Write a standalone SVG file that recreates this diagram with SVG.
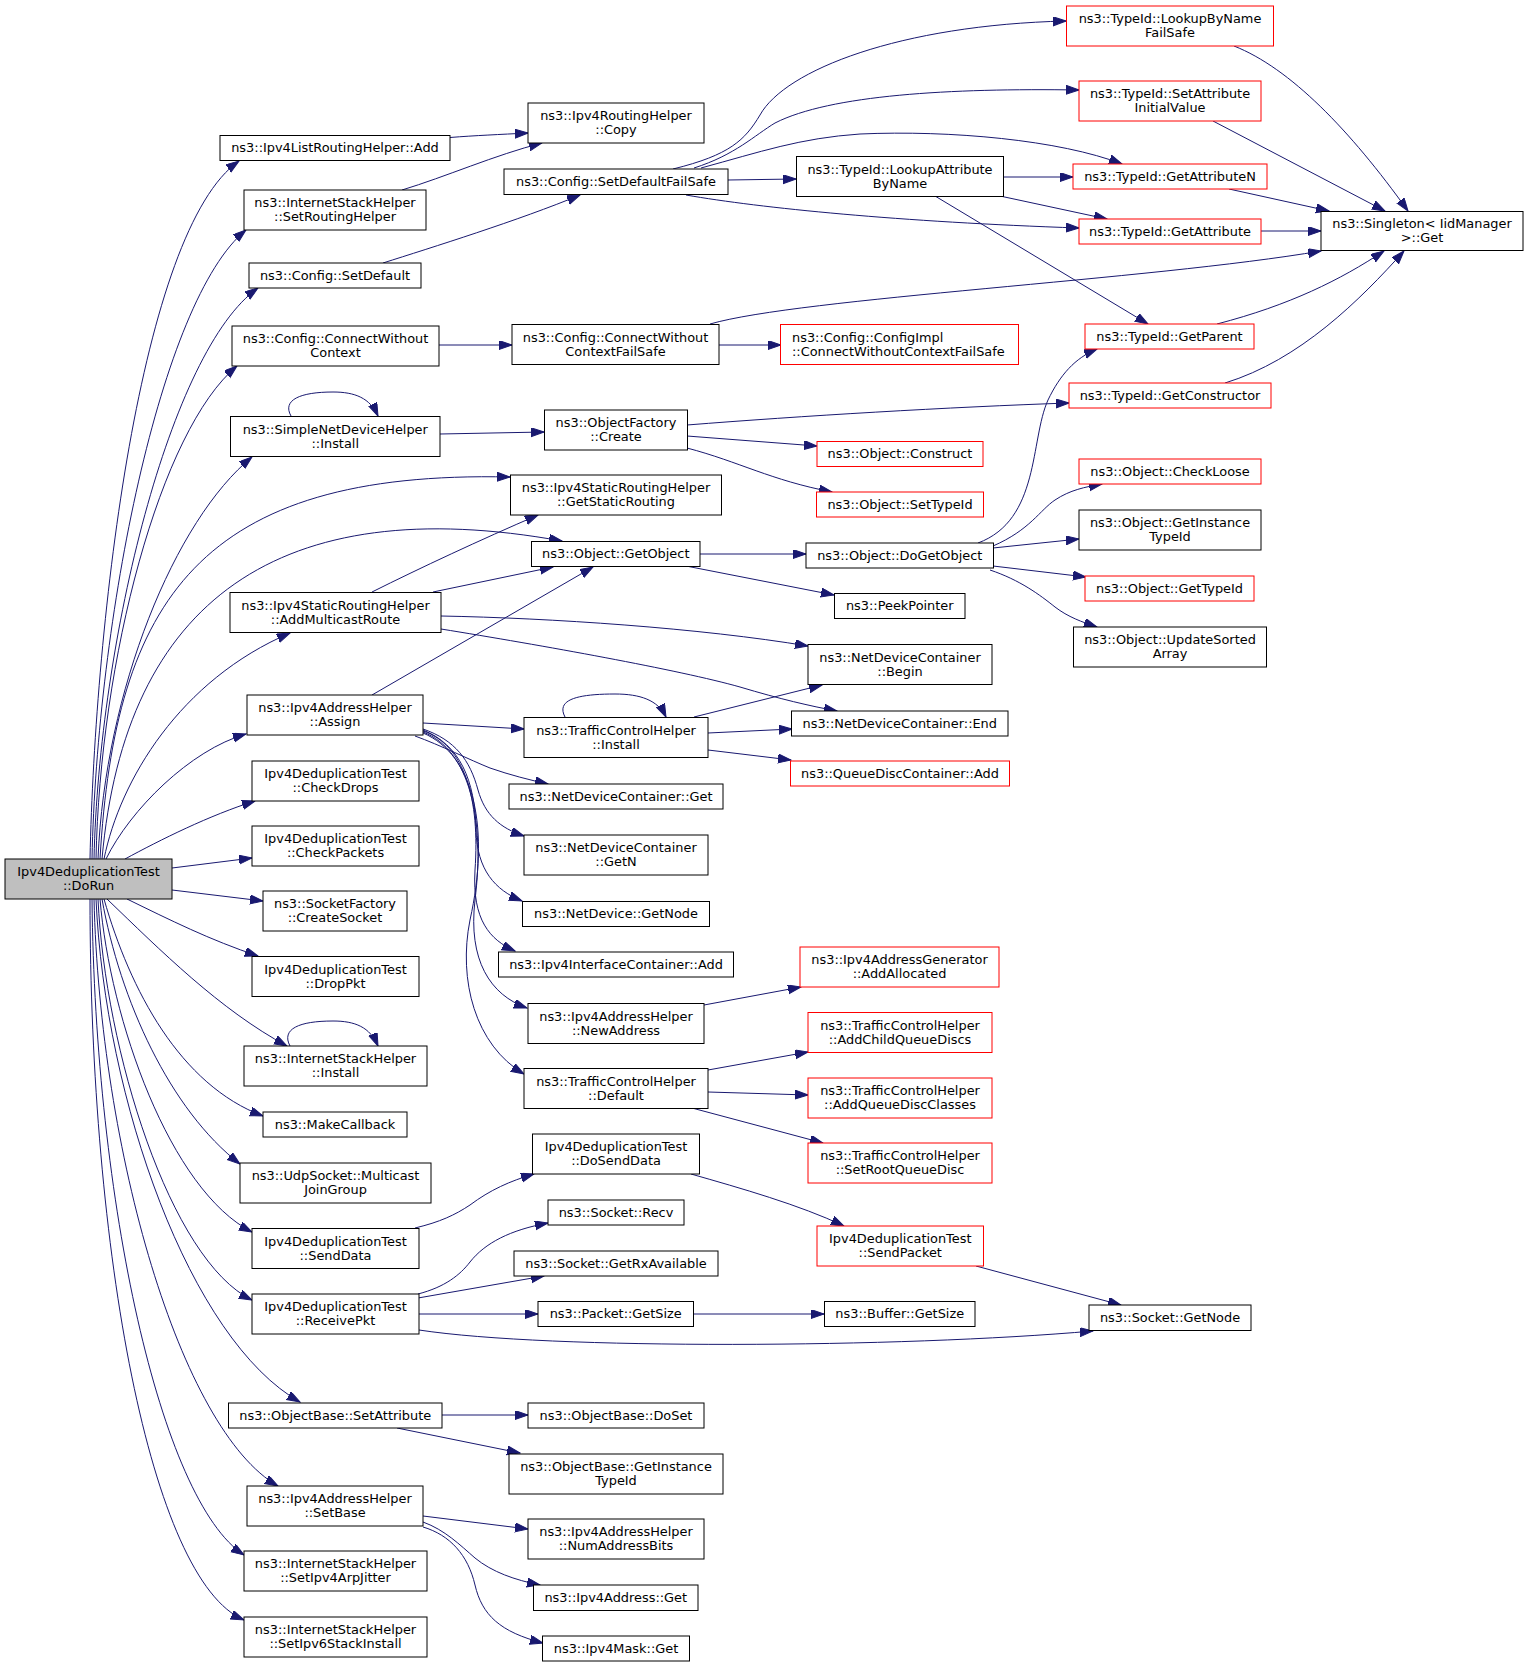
<svg xmlns="http://www.w3.org/2000/svg" width="1529" height="1667" viewBox="0 0 1529 1667">
<defs>
<marker id="ah" markerUnits="userSpaceOnUse" markerWidth="14" markerHeight="10" refX="13" refY="4.5" orient="auto">
<path d="M0,0 L13,4.5 L0,9 z" fill="#191970" stroke="#191970" stroke-width="1"/>
</marker>
</defs>
<style>
.n rect{fill:#ffffff;stroke:#000000;stroke-width:1}
.n.r rect{stroke:#ff0000}
.n.root rect{fill:#bfbfbf}
text{font-family:"DejaVu Sans","Liberation Sans",sans-serif;font-size:12.9px;fill:#000000;text-anchor:middle}
text.l{text-anchor:start}
#edges path{fill:none;stroke:#191970;stroke-width:1;marker-end:url(#ah)}
</style>
<rect width="1529" height="1667" fill="#ffffff"/>
<g id="edges">
<path d="M90,859 C95,620 140,230 239,161"/>
<path d="M92,859 C97,620 160,300 246,230"/>
<path d="M94,859 C99,640 170,350 258,288"/>
<path d="M96,859 C100,660 160,430 237,366"/>
<path d="M98,859 C105,690 175,520 252,457"/>
<path d="M100,859 C115,600 200,470 510,477"/>
<path d="M102,859 C125,600 280,490 562,541"/>
<path d="M104,859 C120,780 180,680 290,633"/>
<path d="M106,859 C130,810 190,750 246,734"/>
<path d="M125,859 C160,840 210,815 255,801"/>
<path d="M172,868 L252,858"/>
<path d="M172,890 L263,901"/>
<path d="M127,899 C170,920 210,940 258,956"/>
<path d="M107,899 C160,950 220,1010 287,1046"/>
<path d="M104,899 C130,990 180,1085 263,1116"/>
<path d="M102,899 C120,1000 170,1110 240,1164"/>
<path d="M100,899 C110,1020 170,1190 252,1232"/>
<path d="M98,899 C105,1050 170,1260 252,1300"/>
<path d="M96,899 C105,1100 190,1340 300,1402"/>
<path d="M94,899 C100,1150 180,1430 278,1486"/>
<path d="M92,899 C95,1200 160,1500 244,1555"/>
<path d="M90,899 C90,1250 150,1580 244,1620"/>
<path d="M450,137.5 C475,135.5 500,134.5 528,133"/>
<path d="M402,190 C445,177 495,155 542,143"/>
<path d="M383,263 C430,248 520,220 580,195"/>
<path d="M439,345 L512,345"/>
<path d="M440,434 L544,432"/>
<path d="M291,416 C282,400 300,392 333,392 C355,392 370,398 378,416"/>
<path d="M673,169 C730,155 745,140 760,115 C785,70 900,25 1066,21"/>
<path d="M694,168 C735,155 755,135 775,123 C830,95 950,88 1079,90"/>
<path d="M701,168 C760,152 800,138 860,134 C950,130 1060,140 1122,164"/>
<path d="M728,180 L796,179"/>
<path d="M686,195 C760,208 900,222 1079,228"/>
<path d="M1003,177 L1073,177"/>
<path d="M1000,196 L1107,219"/>
<path d="M935,196 L1148,324"/>
<path d="M710,324 C800,298 1150,280 1321,251"/>
<path d="M719,345 L781,345"/>
<path d="M687,425 C800,416 950,407 1069,403"/>
<path d="M687,436 L817,446"/>
<path d="M687,448 C740,462 770,480 832,492"/>
<path d="M1234,46 C1290,68 1350,130 1408,211"/>
<path d="M1213,121 L1385,211"/>
<path d="M1229,189 L1329,211"/>
<path d="M1261,231 L1321,231"/>
<path d="M1217,324 C1290,305 1340,280 1384,251"/>
<path d="M1225,383 C1300,360 1360,300 1404,251"/>
<path d="M700,554 L806,554"/>
<path d="M686,566 L834,595"/>
<path d="M978,543 C1040,520 1030,440 1048,400 C1060,375 1075,358 1097,349"/>
<path d="M993,546 C1030,530 1040,510 1055,500 C1070,490 1085,487 1102,484"/>
<path d="M993,548 L1079,539"/>
<path d="M993,566 L1086,577"/>
<path d="M990,570 C1020,580 1040,595 1055,607 C1068,617 1082,622 1097,627"/>
<path d="M372,592 C420,568 480,540 538,515"/>
<path d="M433,592 L553,567"/>
<path d="M441,616 C550,618 700,628 808,646"/>
<path d="M441,629 C540,645 680,670 740,687 C780,699 810,706 837,711"/>
<path d="M372,695 L593,567"/>
<path d="M423,723 L524,729"/>
<path d="M415,736 C440,745 470,760 490,768 C510,775 530,780 548,784"/>
<path d="M423,729 C455,740 470,760 478,790 C485,815 500,828 524,836"/>
<path d="M423,730 C460,745 475,780 476,830 C477,870 495,890 522,901"/>
<path d="M423,731 C465,745 480,800 475,870 C472,920 490,940 515,951"/>
<path d="M423,732 C470,750 485,820 475,900 C468,960 490,995 527,1008"/>
<path d="M423,733 C475,755 490,830 470,920 C458,980 475,1045 524,1074"/>
<path d="M694,717 L822,685"/>
<path d="M708,733 L792,729"/>
<path d="M708,750 L791,760"/>
<path d="M565,717 C556,700 576,694 615,694 C640,694 658,700 666,717"/>
<path d="M290,1046 C281,1029 299,1021 333,1021 C355,1021 370,1027 378,1046"/>
<path d="M704,1005 L801,987"/>
<path d="M708,1070 L808,1052"/>
<path d="M708,1092 L808,1095"/>
<path d="M692,1108 L823,1143"/>
<path d="M415,1228 C440,1222 455,1215 470,1205 C490,1190 510,1181 534,1174"/>
<path d="M691,1174 C740,1188 800,1205 844,1226"/>
<path d="M976,1266 L1121,1305"/>
<path d="M418,1294 C445,1287 460,1275 470,1262 C485,1243 510,1230 548,1223"/>
<path d="M418,1298 L544,1276"/>
<path d="M419,1314 L538,1314"/>
<path d="M419,1330 C550,1350 900,1348 1093,1331"/>
<path d="M694,1314 L824,1314"/>
<path d="M442,1415 L528,1415"/>
<path d="M397,1428 L520,1453"/>
<path d="M423,1516 L528,1529"/>
<path d="M423,1522 C445,1530 460,1545 475,1558 C492,1572 515,1580 540,1585"/>
<path d="M423,1527 C450,1535 468,1555 475,1585 C482,1615 500,1632 543,1643"/>
</g>
<g id="n_dorun" class="n root"><rect x="5" y="859" width="167" height="40"/><text x="88.5" y="876">Ipv4DeduplicationTest</text><text x="88.5" y="890">::DoRun</text></g>
<g id="n_add" class="n"><rect x="220" y="135.5" width="230" height="25"/><text x="335" y="152.2">ns3::Ipv4ListRoutingHelper::Add</text></g>
<g id="n_setroutinghelper" class="n"><rect x="244" y="190" width="182" height="40"/><text x="335" y="207.1">ns3::InternetStackHelper</text><text x="335" y="221.1">::SetRoutingHelper</text></g>
<g id="n_setdefault" class="n"><rect x="249" y="263" width="172" height="25"/><text x="335" y="279.7">ns3::Config::SetDefault</text></g>
<g id="n_cwc" class="n"><rect x="232" y="326" width="207" height="40"/><text x="335.5" y="343.1">ns3::Config::ConnectWithout</text><text x="335.5" y="357.1">Context</text></g>
<g id="n_sndh_install" class="n"><rect x="230.5" y="416.5" width="209.5" height="40"/><text x="335.25" y="433.6">ns3::SimpleNetDeviceHelper</text><text x="335.25" y="447.6">::Install</text></g>
<g id="n_addmulticastroute" class="n"><rect x="230" y="592.5" width="211" height="40"/><text x="335.5" y="609.6">ns3::Ipv4StaticRoutingHelper</text><text x="335.5" y="623.6">::AddMulticastRoute</text></g>
<g id="n_assign" class="n"><rect x="247" y="695" width="176" height="40"/><text x="335" y="712.1">ns3::Ipv4AddressHelper</text><text x="335" y="726.1">::Assign</text></g>
<g id="n_checkdrops" class="n"><rect x="252" y="761" width="167" height="40"/><text x="335.5" y="778.1">Ipv4DeduplicationTest</text><text x="335.5" y="792.1">::CheckDrops</text></g>
<g id="n_checkpackets" class="n"><rect x="252" y="826" width="167" height="40"/><text x="335.5" y="843.1">Ipv4DeduplicationTest</text><text x="335.5" y="857.1">::CheckPackets</text></g>
<g id="n_createsocket" class="n"><rect x="263" y="891" width="144" height="40"/><text x="335" y="908.1">ns3::SocketFactory</text><text x="335" y="922.1">::CreateSocket</text></g>
<g id="n_droppkt" class="n"><rect x="252" y="956.5" width="167" height="40"/><text x="335.5" y="973.6">Ipv4DeduplicationTest</text><text x="335.5" y="987.6">::DropPkt</text></g>
<g id="n_ish_install" class="n"><rect x="244" y="1046" width="183" height="40"/><text x="335.5" y="1063.1">ns3::InternetStackHelper</text><text x="335.5" y="1077.1">::Install</text></g>
<g id="n_makecallback" class="n"><rect x="263" y="1112" width="144" height="25"/><text x="335" y="1128.7">ns3::MakeCallback</text></g>
<g id="n_multicastjoingroup" class="n"><rect x="240" y="1163" width="191" height="40"/><text x="335.5" y="1180.1">ns3::UdpSocket::Multicast</text><text x="335.5" y="1194.1">JoinGroup</text></g>
<g id="n_senddata" class="n"><rect x="252" y="1228.5" width="167" height="40"/><text x="335.5" y="1245.6">Ipv4DeduplicationTest</text><text x="335.5" y="1259.6">::SendData</text></g>
<g id="n_receivepkt" class="n"><rect x="252" y="1294" width="167" height="40"/><text x="335.5" y="1311.1">Ipv4DeduplicationTest</text><text x="335.5" y="1325.1">::ReceivePkt</text></g>
<g id="n_setattribute" class="n"><rect x="228.5" y="1403" width="213.5" height="25"/><text x="335.25" y="1419.7">ns3::ObjectBase::SetAttribute</text></g>
<g id="n_setbase" class="n"><rect x="247" y="1486" width="176" height="40"/><text x="335" y="1503.1">ns3::Ipv4AddressHelper</text><text x="335" y="1517.1">::SetBase</text></g>
<g id="n_arpjitter" class="n"><rect x="244" y="1551" width="183" height="40"/><text x="335.5" y="1568.1">ns3::InternetStackHelper</text><text x="335.5" y="1582.1">::SetIpv4ArpJitter</text></g>
<g id="n_ipv6stack" class="n"><rect x="244" y="1617" width="183" height="40"/><text x="335.5" y="1634.1">ns3::InternetStackHelper</text><text x="335.5" y="1648.1">::SetIpv6StackInstall</text></g>
<g id="n_copy" class="n"><rect x="528" y="103" width="176" height="40"/><text x="616" y="120.1">ns3::Ipv4RoutingHelper</text><text x="616" y="134.1">::Copy</text></g>
<g id="n_sdfs" class="n"><rect x="504" y="169" width="224" height="25.5"/><text x="616" y="186">ns3::Config::SetDefaultFailSafe</text></g>
<g id="n_cwcfs" class="n"><rect x="512" y="324.5" width="207" height="40"/><text x="615.5" y="341.6">ns3::Config::ConnectWithout</text><text x="615.5" y="355.6">ContextFailSafe</text></g>
<g id="n_create" class="n"><rect x="544.5" y="410" width="143" height="40"/><text x="616" y="427.1">ns3::ObjectFactory</text><text x="616" y="441.1">::Create</text></g>
<g id="n_getstaticrouting" class="n"><rect x="510.5" y="475" width="211" height="40"/><text x="616" y="492.1">ns3::Ipv4StaticRoutingHelper</text><text x="616" y="506.1">::GetStaticRouting</text></g>
<g id="n_getobject" class="n"><rect x="531.5" y="541.5" width="168.5" height="25"/><text x="615.75" y="558.2">ns3::Object::GetObject</text></g>
<g id="n_tch_install" class="n"><rect x="524" y="717.5" width="184" height="40"/><text x="616" y="734.6">ns3::TrafficControlHelper</text><text x="616" y="748.6">::Install</text></g>
<g id="n_ndc_get" class="n"><rect x="509" y="784" width="214" height="25"/><text x="616" y="800.7">ns3::NetDeviceContainer::Get</text></g>
<g id="n_ndc_getn" class="n"><rect x="524" y="835" width="184" height="40"/><text x="616" y="852.1">ns3::NetDeviceContainer</text><text x="616" y="866.1">::GetN</text></g>
<g id="n_netdevice_getnode" class="n"><rect x="522.5" y="901.5" width="187" height="25"/><text x="616" y="918.2">ns3::NetDevice::GetNode</text></g>
<g id="n_iic_add" class="n"><rect x="498.5" y="952" width="235" height="25"/><text x="616" y="968.7">ns3::Ipv4InterfaceContainer::Add</text></g>
<g id="n_newaddress" class="n"><rect x="528" y="1003.5" width="176" height="40"/><text x="616" y="1020.6">ns3::Ipv4AddressHelper</text><text x="616" y="1034.6">::NewAddress</text></g>
<g id="n_tch_default" class="n"><rect x="524" y="1068.5" width="184" height="40"/><text x="616" y="1085.6">ns3::TrafficControlHelper</text><text x="616" y="1099.6">::Default</text></g>
<g id="n_dosenddata" class="n"><rect x="532.5" y="1134" width="167" height="40"/><text x="616" y="1151.1">Ipv4DeduplicationTest</text><text x="616" y="1165.1">::DoSendData</text></g>
<g id="n_recv" class="n"><rect x="548" y="1200" width="136" height="25"/><text x="616" y="1216.7">ns3::Socket::Recv</text></g>
<g id="n_getrxavailable" class="n"><rect x="514" y="1251" width="204" height="25"/><text x="616" y="1267.7">ns3::Socket::GetRxAvailable</text></g>
<g id="n_packet_getsize" class="n"><rect x="538" y="1301.5" width="155.5" height="25"/><text x="615.75" y="1318.2">ns3::Packet::GetSize</text></g>
<g id="n_doset" class="n"><rect x="528" y="1403" width="176" height="25"/><text x="616" y="1419.7">ns3::ObjectBase::DoSet</text></g>
<g id="n_ob_getinstancetypeid" class="n"><rect x="509" y="1454" width="214" height="40"/><text x="616" y="1471.1">ns3::ObjectBase::GetInstance</text><text x="616" y="1485.1">TypeId</text></g>
<g id="n_numaddressbits" class="n"><rect x="528" y="1519" width="176" height="40"/><text x="616" y="1536.1">ns3::Ipv4AddressHelper</text><text x="616" y="1550.1">::NumAddressBits</text></g>
<g id="n_ipv4address_get" class="n"><rect x="533.5" y="1585" width="164.5" height="25.5"/><text x="615.75" y="1602">ns3::Ipv4Address::Get</text></g>
<g id="n_ipv4mask_get" class="n"><rect x="542.5" y="1636" width="147" height="25"/><text x="616" y="1652.7">ns3::Ipv4Mask::Get</text></g>
<g id="n_lookupattributebyname" class="n"><rect x="796.5" y="156.5" width="207" height="40"/><text x="900" y="173.6">ns3::TypeId::LookupAttribute</text><text x="900" y="187.6">ByName</text></g>
<g id="n_configimpl" class="n r"><rect x="780.5" y="324.5" width="238" height="40"/><text class="l" x="792" y="341.6">ns3::Config::ConfigImpl</text><text class="l" x="792" y="355.6">::ConnectWithoutContextFailSafe</text></g>
<g id="n_construct" class="n r"><rect x="817" y="441.5" width="166" height="25"/><text x="900" y="458.2">ns3::Object::Construct</text></g>
<g id="n_settypeid" class="n r"><rect x="816.5" y="492" width="167" height="25"/><text x="900" y="508.7">ns3::Object::SetTypeId</text></g>
<g id="n_dogetobject" class="n"><rect x="806" y="543" width="187.5" height="25"/><text x="899.75" y="559.7">ns3::Object::DoGetObject</text></g>
<g id="n_peekpointer" class="n"><rect x="834.5" y="593.5" width="130.5" height="25"/><text x="899.75" y="610.2">ns3::PeekPointer</text></g>
<g id="n_ndc_begin" class="n"><rect x="808" y="644.5" width="184" height="40"/><text x="900" y="661.6">ns3::NetDeviceContainer</text><text x="900" y="675.6">::Begin</text></g>
<g id="n_ndc_end" class="n"><rect x="791.5" y="711" width="216.5" height="25"/><text x="899.75" y="727.7">ns3::NetDeviceContainer::End</text></g>
<g id="n_qdc_add" class="n r"><rect x="790.5" y="761" width="219" height="25"/><text x="900" y="777.7">ns3::QueueDiscContainer::Add</text></g>
<g id="n_addallocated" class="n r"><rect x="800" y="947" width="199" height="40"/><text x="899.5" y="964.1">ns3::Ipv4AddressGenerator</text><text x="899.5" y="978.1">::AddAllocated</text></g>
<g id="n_addchildqueuediscs" class="n r"><rect x="808" y="1012.5" width="184" height="40"/><text x="900" y="1029.6">ns3::TrafficControlHelper</text><text x="900" y="1043.6">::AddChildQueueDiscs</text></g>
<g id="n_addqueuediscclasses" class="n r"><rect x="808" y="1078" width="184" height="40"/><text x="900" y="1095.1">ns3::TrafficControlHelper</text><text x="900" y="1109.1">::AddQueueDiscClasses</text></g>
<g id="n_setrootqueuedisc" class="n r"><rect x="808" y="1143" width="184" height="40"/><text x="900" y="1160.1">ns3::TrafficControlHelper</text><text x="900" y="1174.1">::SetRootQueueDisc</text></g>
<g id="n_sendpacket" class="n r"><rect x="817" y="1226" width="166.5" height="40"/><text x="900.25" y="1243.1">Ipv4DeduplicationTest</text><text x="900.25" y="1257.1">::SendPacket</text></g>
<g id="n_buffer_getsize" class="n"><rect x="824.5" y="1301.5" width="150.5" height="25"/><text x="899.75" y="1318.2">ns3::Buffer::GetSize</text></g>
<g id="n_lookupbynamefailsafe" class="n r"><rect x="1066.5" y="6" width="207" height="40"/><text x="1170" y="23.1">ns3::TypeId::LookupByName</text><text x="1170" y="37.1">FailSafe</text></g>
<g id="n_setattributeinitialvalue" class="n r"><rect x="1079" y="81" width="182" height="40"/><text x="1170" y="98.1">ns3::TypeId::SetAttribute</text><text x="1170" y="112.1">InitialValue</text></g>
<g id="n_getattributen" class="n r"><rect x="1073" y="164" width="194" height="25"/><text x="1170" y="180.7">ns3::TypeId::GetAttributeN</text></g>
<g id="n_getattribute" class="n r"><rect x="1079" y="219" width="182" height="25"/><text x="1170" y="235.7">ns3::TypeId::GetAttribute</text></g>
<g id="n_getparent" class="n r"><rect x="1085" y="324" width="169" height="25"/><text x="1169.5" y="340.7">ns3::TypeId::GetParent</text></g>
<g id="n_getconstructor" class="n r"><rect x="1069" y="383" width="202" height="25"/><text x="1170" y="399.7">ns3::TypeId::GetConstructor</text></g>
<g id="n_checkloose" class="n r"><rect x="1079" y="459" width="182" height="25"/><text x="1170" y="475.7">ns3::Object::CheckLoose</text></g>
<g id="n_obj_getinstancetypeid" class="n"><rect x="1079" y="510" width="182" height="40"/><text x="1170" y="527.1">ns3::Object::GetInstance</text><text x="1170" y="541.1">TypeId</text></g>
<g id="n_obj_gettypeid" class="n r"><rect x="1085" y="576" width="169" height="25"/><text x="1169.5" y="592.7">ns3::Object::GetTypeId</text></g>
<g id="n_updatesortedarray" class="n"><rect x="1073.5" y="627" width="193" height="40"/><text x="1170" y="644.1">ns3::Object::UpdateSorted</text><text x="1170" y="658.1">Array</text></g>
<g id="n_socket_getnode" class="n"><rect x="1089" y="1305" width="162" height="25.5"/><text x="1170" y="1322">ns3::Socket::GetNode</text></g>
<g id="n_singleton_get" class="n"><rect x="1321" y="211.5" width="202" height="39"/><text x="1422" y="228.1">ns3::Singleton&lt; IidManager</text><text x="1422" y="242.1">&gt;::Get</text></g>
</svg>
